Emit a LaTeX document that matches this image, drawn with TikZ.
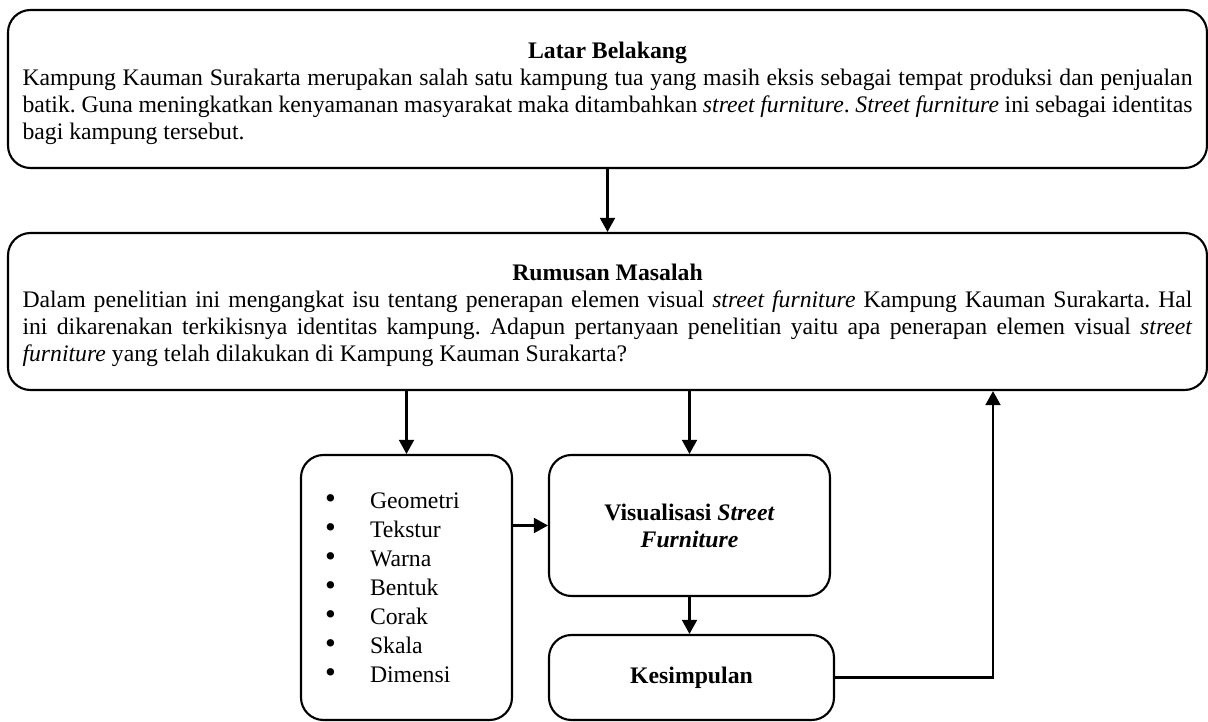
\documentclass[tikz,border=0pt]{standalone}
\usepackage{fontspec}
\setmainfont{Liberation Serif}
\usetikzlibrary{arrows.meta}
\tikzstyle{kotak}=[draw, line width=1.2pt, rounded corners=0.45cm, inner sep=0pt]
\tikzstyle{panah}=[line width=1.2pt, -{Triangle[width=8.5pt,length=8pt]}]
\newcommand{\teks}{\fontsize{13.5}{15.3}\selectfont\frenchspacing}
\newcommand{\judul}[1]{\makebox[\hsize]{\rule{0pt}{14pt}\textbf{#1}}}
\newcommand{\butir}[1]{\makebox[0.9cm][l]{\scalebox{1.3}{\textbullet}}#1}

\begin{document}
\begin{tikzpicture}[font=\teks]
\useasboundingbox (0,0) rectangle (24.16,-14.44);

% kotak atas
\node[kotak, minimum width=23.98cm, minimum height=3.16cm, text width=23.4cm, align=justify] (latar) at (12.15,-1.78)
  {\judul{Latar Belakang}\\
   Kampung Kauman Surakarta merupakan salah satu kampung tua yang masih eksis sebagai tempat produksi dan penjualan\linebreak
   batik. Guna meningkatkan kenyamanan masyarakat maka ditambahkan \textit{street furniture}. \textit{Street furniture} ini sebagai identitas\linebreak
   bagi kampung tersebut.};

\node[kotak, minimum width=23.98cm, minimum height=3.14cm, text width=23.4cm, align=justify] (rumusan) at (12.15,-6.23)
  {\judul{Rumusan Masalah}\\
   Dalam penelitian ini mengangkat isu tentang penerapan elemen visual \textit{street furniture} Kampung Kauman Surakarta. Hal\linebreak
   ini dikarenakan terkikisnya identitas kampung. Adapun pertanyaan penelitian yaitu apa penerapan elemen visual \textit{street}\linebreak
   \textit{furniture} yang telah dilakukan di Kampung Kauman Surakarta?};

% kotak bawah
\node[kotak, minimum width=4.22cm, minimum height=5.3cm, text width=3.26cm, align=left,
      font=\fontsize{13.5}{16.5}\selectfont] (ciri) at (8.13,-11.75)
  {\butir{Geometri}\\ \butir{Tekstur}\\ \butir{Warna}\\ \butir{Bentuk}\\
   \butir{Corak}\\ \butir{Skala}\\ \butir{Dimensi}};

\node[kotak, minimum width=5.62cm, minimum height=2.82cm, align=center] (visual) at (13.79,-10.51)
  {\textbf{Visualisasi \textit{Street}}\\ \textbf{\textit{Furniture}}};

\node[kotak, minimum width=5.7cm, minimum height=1.7cm] (simpulan) at (13.83,-13.55)
  {\textbf{Kesimpulan}};

% panah
\draw[panah] (latar.south) -- (rumusan.north);
\draw[panah] (ciri.north |- rumusan.south) -- (ciri.north);
\draw[panah] (visual.north |- rumusan.south) -- (visual.north);
\draw[panah] (ciri.east |- visual.west) -- (visual.west);
\draw[panah] (visual.south) -- (visual.south |- simpulan.north);
\draw[panah] (simpulan.east) -| ([xshift=7.71cm]rumusan.south);

\end{tikzpicture}
\end{document}
